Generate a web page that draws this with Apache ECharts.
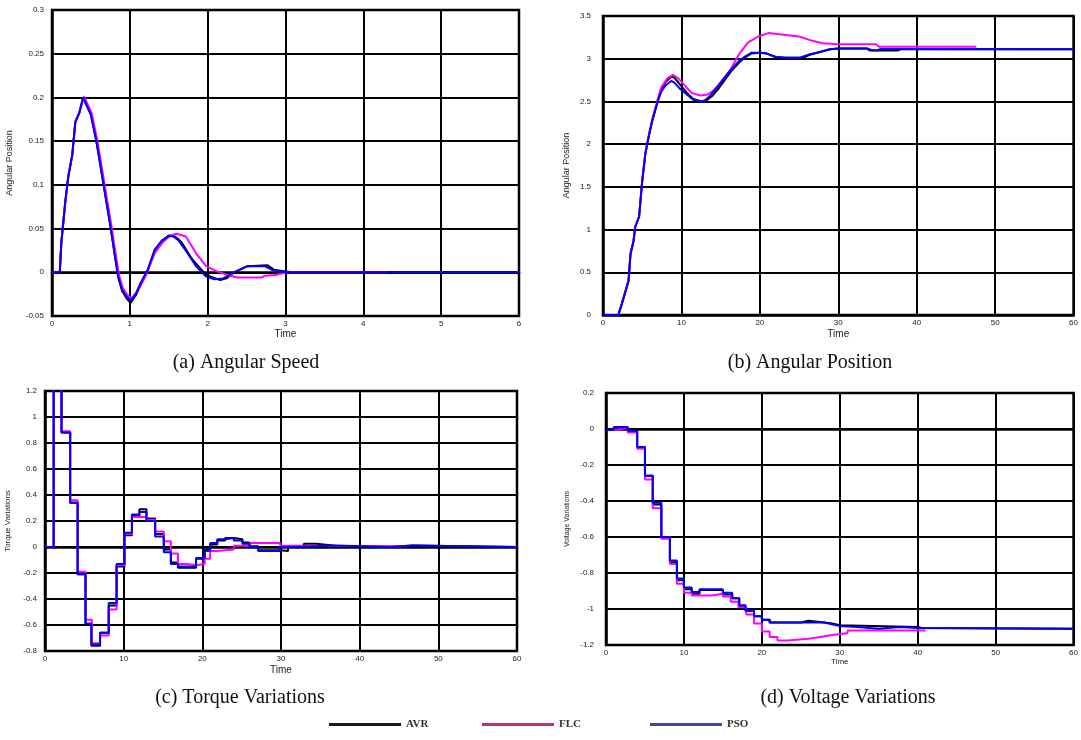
<!DOCTYPE html>
<html><head><meta charset="utf-8">
<script src="https://cdn.jsdelivr.net/npm/echarts@6/dist/echarts.min.js"></script>
<style>html,body{margin:0;padding:0;background:#fff}#c{width:1081px;height:740px}</style>
</head><body><div id="c"></div>
<script>
// ---- Panel (a) Angular Speed : [time, value]
const speedAVR = [[0,0],[0.1,0],[0.12,0.034],[0.17,0.08],[0.21,0.11],[0.26,0.134],[0.3,0.172],[0.35,0.182],[0.4,0.2],[0.46,0.188],[0.5,0.18],[0.57,0.15],[0.63,0.118],[0.7,0.08],[0.75,0.053],[0.81,0.018],[0.85,-0.005],[0.9,-0.021],[0.96,-0.03],[1.01,-0.035],[1.08,-0.026],[1.14,-0.013],[1.23,0.002],[1.32,0.025],[1.41,0.036],[1.5,0.042],[1.58,0.041],[1.66,0.035],[1.8,0.015],[1.98,-0.003],[2.16,-0.009],[2.24,-0.007],[2.34,0],[2.51,0.007],[2.77,0.008],[2.85,0.003],[3.0,0.001],[3.1,0],[6,0]];
const speedFLC = [[0,0],[0.1,0],[0.12,0.034],[0.17,0.08],[0.21,0.11],[0.26,0.134],[0.3,0.172],[0.35,0.183],[0.41,0.201],[0.47,0.19],[0.51,0.182],[0.58,0.152],[0.64,0.12],[0.71,0.082],[0.76,0.055],[0.82,0.02],[0.86,-0.003],[0.91,-0.018],[0.97,-0.026],[1.02,-0.03],[1.1,-0.022],[1.2,-0.005],[1.32,0.022],[1.42,0.034],[1.52,0.042],[1.6,0.044],[1.72,0.041],[1.85,0.022],[1.98,0.007],[2.12,0.001],[2.25,-0.003],[2.38,-0.006],[2.69,-0.006],[2.73,-0.004],[2.87,-0.003],[3.02,0],[4.3,0]];
const speedPSO = [[0,0],[0.1,0],[0.12,0.034],[0.17,0.08],[0.21,0.11],[0.26,0.134],[0.3,0.172],[0.35,0.182],[0.4,0.2],[0.46,0.188],[0.5,0.18],[0.57,0.15],[0.63,0.118],[0.7,0.08],[0.75,0.053],[0.81,0.018],[0.85,-0.005],[0.9,-0.02],[0.96,-0.028],[1.01,-0.032],[1.08,-0.024],[1.14,-0.012],[1.23,0.003],[1.32,0.026],[1.41,0.036],[1.5,0.0415],[1.56,0.041],[1.63,0.036],[1.74,0.022],[1.85,0.007],[1.98,-0.005],[2.09,-0.008],[2.2,-0.007],[2.34,0],[2.51,0.007],[2.73,0.007],[2.82,0.003],[3.0,0],[6,0]];

// ---- Panel (b) Angular Position
const posAVR = [[0,0],[1.96,0],[2.4,0.13],[3.26,0.4],[3.5,0.71],[3.9,0.87],[4.1,1.03],[4.6,1.15],[5,1.57],[5.4,1.89],[5.9,2.12],[6.3,2.28],[7,2.51],[7.4,2.63],[8,2.73],[8.7,2.79],[9.1,2.78],[9.8,2.7],[10.7,2.6],[11.5,2.53],[12.6,2.5],[13.3,2.52],[14,2.57],[14.8,2.66],[15.6,2.76],[16.4,2.86],[17.3,2.95],[18,3.01],[18.9,3.06],[20,3.07],[20.9,3.06],[22,3.02],[23.3,3.01],[25.5,3.01],[26.5,3.05],[27.8,3.08],[29,3.11],[30,3.12],[33.7,3.12],[34,3.095],[37.5,3.095],[38,3.11],[60,3.11]];
const posFLC = [[0,0],[1.96,0],[2.4,0.13],[3.26,0.4],[3.5,0.71],[3.9,0.87],[4.1,1.03],[4.6,1.15],[5,1.57],[5.4,1.89],[5.9,2.13],[6.3,2.3],[7,2.53],[7.4,2.66],[8.2,2.77],[8.9,2.81],[9.6,2.77],[10.5,2.68],[11.3,2.6],[12.4,2.57],[13.3,2.58],[14,2.62],[14.8,2.7],[15.6,2.79],[16.3,2.88],[17.4,3.06],[18.5,3.19],[19.8,3.26],[21.1,3.3],[22.2,3.29],[22.4,3.27],[25,3.26],[26.3,3.22],[28,3.18],[30,3.17],[34.8,3.17],[35.2,3.14],[47.6,3.14]];
const posPSO = [[0,0],[1.96,0],[2.4,0.13],[3.26,0.4],[3.5,0.71],[3.9,0.87],[4.1,1.03],[4.6,1.15],[5,1.57],[5.4,1.89],[5.9,2.12],[6.3,2.28],[7,2.51],[7.4,2.61],[8,2.69],[8.7,2.74],[9.1,2.72],[9.8,2.65],[10.7,2.58],[11.5,2.52],[12.4,2.5],[13,2.51],[13.7,2.57],[14.6,2.67],[15.4,2.77],[16.3,2.87],[17.2,2.96],[18,3.02],[18.9,3.07],[20,3.07],[20.9,3.06],[22,3.02],[23.3,3.01],[25,3.01],[26.3,3.05],[27.6,3.08],[28.9,3.11],[30,3.12],[33.7,3.12],[34.3,3.1],[35,3.1],[35.4,3.115],[60,3.11]];

// ---- Panel (c) Torque Variations : [step start time, value]
const torqueAVR = [[0,0],[1.1,1.5],[2.1,0.88],[3.2,0.34],[4.15,-0.21],[5.15,-0.59],[5.9,-0.76],[7.0,-0.66],[8.1,-0.45],[9.1,-0.15],[10.1,0.09],[11.05,0.24],[12.0,0.29],[12.9,0.22],[14,0.1],[15.1,-0.02],[16,-0.12],[16.9,-0.16],[19.2,-0.09],[20.3,-0.02],[21,0.02],[21.9,0.05],[22.9,0.07],[24,0.06],[25.1,0.035],[26,0.005],[27.1,-0.025],[29.9,-0.03],[30.9,0],[32.9,0.025],[34.5,0.01],[36.9,0],[43.9,0.012],[46.7,0],[60,0]];
const torqueFLC = [[0,0],[1.1,1.5],[2.1,0.89],[3.2,0.36],[4.15,-0.19],[5.15,-0.56],[5.95,-0.74],[7.0,-0.68],[8.1,-0.48],[9.1,-0.14],[10.1,0.1],[11.05,0.23],[12.9,0.21],[14,0.12],[15.1,0.045],[16,-0.05],[16.9,-0.13],[18.1,-0.14],[19.2,-0.13],[20.3,-0.09],[21,-0.03],[21.9,-0.02],[24,0.01],[26,0.03],[29.9,0.01],[31.9,0.005],[46,0.005]];
const torquePSO = [[0,0],[1.1,1.5],[2.1,0.88],[3.2,0.34],[4.15,-0.21],[5.15,-0.59],[5.9,-0.75],[7.0,-0.66],[8.1,-0.43],[9.1,-0.13],[10.1,0.11],[11.05,0.25],[12.0,0.27],[12.9,0.2],[14,0.08],[15.1,-0.04],[16,-0.13],[16.9,-0.15],[19.2,-0.085],[20.3,-0.03],[21,0.03],[21.9,0.06],[22.9,0.07],[24,0.05],[25.1,0.025],[26,0],[27.1,-0.03],[29.9,0],[31.9,0.012],[36.9,0],[43.9,0.012],[46.7,0],[60,0]];

// ---- Panel (d) Voltage Variations : [step start time, value]
const voltAVR = [[0,-0.005],[1,0.01],[2.8,-0.01],[4,-0.1],[5,-0.26],[6,-0.42],[7.1,-0.6],[8.2,-0.74],[9.1,-0.84],[10,-0.89],[11,-0.915],[12,-0.895],[15,-0.92],[16.2,-0.94],[17.1,-0.98],[17.9,-1.01],[19,-1.04],[20,-1.06],[21,-1.075],[25,-1.065],[26,-1.075],[28,-1.08],[29,-1.09],[30,-1.1],[40,-1.105],[40.5,-1.11],[60,-1.11]];
const voltFLC = [[0,-0.005],[1,0.005],[2.8,-0.02],[4,-0.11],[5,-0.28],[6,-0.44],[7.1,-0.61],[8.2,-0.75],[9.1,-0.86],[10,-0.91],[11,-0.925],[13.6,-0.915],[15,-0.93],[16,-0.96],[17,-0.99],[18,-1.03],[19,-1.08],[20,-1.125],[21,-1.155],[22,-1.175],[23.3,-1.165],[26,-1.155],[27.5,-1.145],[29,-1.135],[31,-1.12],[41,-1.12]];
const voltPSO = [[0,-0.005],[1,0.01],[2.8,-0.01],[4,-0.1],[5,-0.26],[6,-0.41],[7.1,-0.6],[8.2,-0.73],[9.1,-0.83],[10,-0.88],[11,-0.905],[12,-0.89],[15,-0.91],[16.2,-0.94],[17.1,-0.98],[17.9,-1.01],[19,-1.04],[20,-1.06],[21,-1.075],[28,-1.085],[29,-1.095],[30,-1.1],[32.2,-1.11],[35,-1.1],[37.7,-1.105],[40,-1.11],[60,-1.11]];

const seriesNames = ['AVR','FLC','PSO'];
const plotColors = ['#000000','#ff00ff','#0000ff'];
const legendColors = ['#1a1a1a','#b5347c','#44449a'];
const captions = ['(a) Angular Speed','(b) Angular Position','(c) Torque Variations','(d) Voltage Variations'];
const yNames = ['Angular Position','Angular Position','Torque Variations','Voltage Variations'];

const chart = echarts.init(document.getElementById('c'), null, {renderer:'canvas'});
const grids = [
  {left:52, top:10, width:467, height:306},
  {left:603, top:16, width:476, height:299},
  {left:45, top:391, width:472, height:260},
  {left:606, top:393, width:472, height:252}
].map(g => Object.assign(g, {show:true, borderColor:'#000', borderWidth:2.5, backgroundColor:'#fff'}));

const ySpec = [
  {min:-0.05, max:0.3, interval:0.05, gap:8, nameGap:38, nameSize:9},
  {min:0, max:3.5, interval:0.5, gap:12, nameGap:32, nameSize:9},
  {min:-0.8, max:1.2, interval:0.2, gap:8, nameGap:33, nameSize:8},
  {min:-1.2, max:0.2, interval:0.2, gap:12, nameGap:35, nameSize:7}
];
const xSpec = [
  {max:6, interval:1, nameGap:12},
  {max:60, interval:10, nameGap:14},
  {max:60, interval:10, nameGap:14},
  {max:60, interval:10, nameGap:12}
];
const tickFont = {fontFamily:'Liberation Sans, Arial, sans-serif', fontSize:8, color:'#222'};
const xAxis = xSpec.map((s,i)=>({
  type:'value', gridIndex:i, min:0, max:s.max, interval:s.interval,
  name:'Time', nameLocation:'middle', nameGap:s.nameGap,
  nameTextStyle:{fontFamily:'Liberation Sans, Arial, sans-serif', fontSize:i===3?8:10, color:'#222'},
  axisLine:{show:true, lineStyle:{color:'#000', width:2.5}},
  axisTick:{show:false},
  axisLabel:Object.assign({margin:4}, tickFont),
  splitLine:{show:true, lineStyle:{color:'#000', width:2}}
}));
const yAxis = ySpec.map((s,i)=>({
  type:'value', gridIndex:i, min:s.min, max:s.max, interval:s.interval,
  name:yNames[i], nameLocation:'middle', nameGap:s.nameGap, nameRotate:90,
  nameTextStyle:{fontFamily:'Liberation Sans, Arial, sans-serif', fontSize:s.nameSize, color:'#222'},
  axisLine:{show:true, lineStyle:{color:'#000', width:2.5}},
  axisTick:{show:false},
  axisLabel:Object.assign({margin:s.gap, formatter:v=>String(+v.toFixed(2))}, tickFont),
  splitLine:{show:true, lineStyle:{color:'#000', width:2}}
}));

const panelData = [
  [speedAVR, speedFLC, speedPSO, false],
  [posAVR, posFLC, posPSO, false],
  [torqueAVR, torqueFLC, torquePSO, 'end'],
  [voltAVR, voltFLC, voltPSO, 'end']
];
const series = [];
panelData.forEach((p,i)=>{
  for(let k=0;k<3;k++){
    series.push({
      type:'line', name:seriesNames[k], xAxisIndex:i, yAxisIndex:i,
      data:p[k], step:p[3], showSymbol:false, symbol:'none',
      lineStyle:{color:plotColors[k], width:2}, itemStyle:{color:plotColors[k]},
      z:2+k, silent:true, animation:false
    });
  }
});

const legendLeft = [324, 477, 645];
const legend = seriesNames.map((n,k)=>({
  data:[{name:n, itemStyle:{color:legendColors[k]}}],
  left:legendLeft[k], top:714, icon:'rect', itemWidth:72, itemHeight:3, itemGap:6,
  selectedMode:false,
  textStyle:{fontFamily:'Liberation Serif, Times New Roman, serif', fontWeight:'bold', fontSize:11, color:'#333'}
}));

const capPos = [[246,363],[810,363],[240,698],[848,698]];
const graphic = captions.map((t,i)=>({
  type:'text', x:capPos[i][0], y:capPos[i][1],
  style:{text:t, font:'20px "Liberation Serif", "Times New Roman", serif', fill:'#111', textAlign:'center', textVerticalAlign:'middle'}
}));

chart.setOption({
  animation:false, backgroundColor:'#fff',
  grid:grids, xAxis, yAxis, series, legend, graphic
});
</script></body></html>
